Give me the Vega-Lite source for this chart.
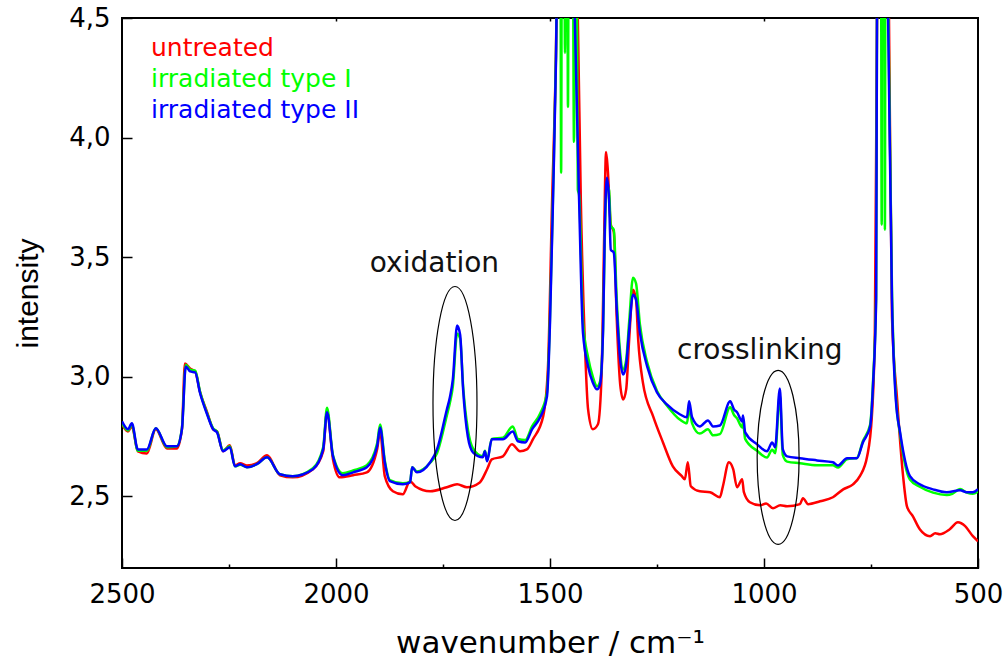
{
  "$schema": "https://vega.github.io/schema/vega-lite/v6.json",
  "width": 856,
  "height": 550,
  "autosize": {"type": "none"},
  "padding": {"left": 122, "top": 18, "right": 27, "bottom": 93},
  "background": "white",
  "config": {
    "view": {"stroke": "black", "strokeWidth": 2},
    "font": "DejaVu Sans",
    "axis": {"domain": false, "grid": false, "tickColor": "black", "tickWidth": 1.5, "labelColor": "black", "titleColor": "black", "labelFont": "DejaVu Sans", "titleFont": "DejaVu Sans", "titleFontWeight": "normal"}
  },
  "datasets": {
    "spectra": [
      {"sample": "untreated", "wavenumber": 2500, "intensity": 2.801},
      {"sample": "untreated", "wavenumber": 2486, "intensity": 2.771},
      {"sample": "untreated", "wavenumber": 2477, "intensity": 2.792},
      {"sample": "untreated", "wavenumber": 2463, "intensity": 2.688},
      {"sample": "untreated", "wavenumber": 2442, "intensity": 2.679},
      {"sample": "untreated", "wavenumber": 2421, "intensity": 2.780},
      {"sample": "untreated", "wavenumber": 2395, "intensity": 2.700},
      {"sample": "untreated", "wavenumber": 2372, "intensity": 2.700},
      {"sample": "untreated", "wavenumber": 2360, "intensity": 2.780},
      {"sample": "untreated", "wavenumber": 2353, "intensity": 3.055},
      {"sample": "untreated", "wavenumber": 2341, "intensity": 3.034},
      {"sample": "untreated", "wavenumber": 2329, "intensity": 3.022},
      {"sample": "untreated", "wavenumber": 2318, "intensity": 2.938},
      {"sample": "untreated", "wavenumber": 2301, "intensity": 2.851},
      {"sample": "untreated", "wavenumber": 2287, "intensity": 2.780},
      {"sample": "untreated", "wavenumber": 2278, "intensity": 2.771},
      {"sample": "untreated", "wavenumber": 2264, "intensity": 2.688},
      {"sample": "untreated", "wavenumber": 2248, "intensity": 2.713},
      {"sample": "untreated", "wavenumber": 2236, "intensity": 2.629},
      {"sample": "untreated", "wavenumber": 2224, "intensity": 2.638},
      {"sample": "untreated", "wavenumber": 2208, "intensity": 2.629},
      {"sample": "untreated", "wavenumber": 2185, "intensity": 2.638},
      {"sample": "untreated", "wavenumber": 2161, "intensity": 2.671},
      {"sample": "untreated", "wavenumber": 2131, "intensity": 2.588},
      {"sample": "untreated", "wavenumber": 2101, "intensity": 2.579},
      {"sample": "untreated", "wavenumber": 2054, "intensity": 2.613},
      {"sample": "untreated", "wavenumber": 2030, "intensity": 2.688},
      {"sample": "untreated", "wavenumber": 2021, "intensity": 2.855},
      {"sample": "untreated", "wavenumber": 2007, "intensity": 2.654},
      {"sample": "untreated", "wavenumber": 1991, "intensity": 2.579},
      {"sample": "untreated", "wavenumber": 1960, "intensity": 2.588},
      {"sample": "untreated", "wavenumber": 1928, "intensity": 2.600},
      {"sample": "untreated", "wavenumber": 1904, "intensity": 2.696},
      {"sample": "untreated", "wavenumber": 1897, "intensity": 2.771},
      {"sample": "untreated", "wavenumber": 1886, "intensity": 2.584},
      {"sample": "untreated", "wavenumber": 1867, "intensity": 2.521},
      {"sample": "untreated", "wavenumber": 1844, "intensity": 2.508},
      {"sample": "untreated", "wavenumber": 1827, "intensity": 2.563},
      {"sample": "untreated", "wavenumber": 1815, "intensity": 2.542},
      {"sample": "untreated", "wavenumber": 1780, "intensity": 2.521},
      {"sample": "untreated", "wavenumber": 1741, "intensity": 2.538},
      {"sample": "untreated", "wavenumber": 1717, "intensity": 2.550},
      {"sample": "untreated", "wavenumber": 1694, "intensity": 2.538},
      {"sample": "untreated", "wavenumber": 1664, "intensity": 2.558},
      {"sample": "untreated", "wavenumber": 1647, "intensity": 2.613},
      {"sample": "untreated", "wavenumber": 1636, "intensity": 2.654},
      {"sample": "untreated", "wavenumber": 1610, "intensity": 2.667},
      {"sample": "untreated", "wavenumber": 1589, "intensity": 2.717},
      {"sample": "untreated", "wavenumber": 1570, "intensity": 2.688},
      {"sample": "untreated", "wavenumber": 1554, "intensity": 2.696},
      {"sample": "untreated", "wavenumber": 1540, "intensity": 2.738},
      {"sample": "untreated", "wavenumber": 1516, "intensity": 2.834},
      {"sample": "untreated", "wavenumber": 1505, "intensity": 3.030},
      {"sample": "untreated", "wavenumber": 1495, "intensity": 3.740},
      {"sample": "untreated", "wavenumber": 1486, "intensity": 4.366},
      {"sample": "untreated", "wavenumber": 1481, "intensity": 4.99},
      {"sample": "untreated", "wavenumber": 1460, "intensity": 5.8},
      {"sample": "untreated", "wavenumber": 1444, "intensity": 4.99},
      {"sample": "untreated", "wavenumber": 1435, "intensity": 4.5},
      {"sample": "untreated", "wavenumber": 1428, "intensity": 3.740},
      {"sample": "untreated", "wavenumber": 1418, "intensity": 3.114},
      {"sample": "untreated", "wavenumber": 1411, "intensity": 2.863},
      {"sample": "untreated", "wavenumber": 1400, "intensity": 2.780},
      {"sample": "untreated", "wavenumber": 1388, "intensity": 2.801},
      {"sample": "untreated", "wavenumber": 1379, "intensity": 3.030},
      {"sample": "untreated", "wavenumber": 1374, "intensity": 3.531},
      {"sample": "untreated", "wavenumber": 1369, "intensity": 3.940},
      {"sample": "untreated", "wavenumber": 1365, "intensity": 3.866},
      {"sample": "untreated", "wavenumber": 1358, "intensity": 3.636},
      {"sample": "untreated", "wavenumber": 1351, "intensity": 3.606},
      {"sample": "untreated", "wavenumber": 1344, "intensity": 3.239},
      {"sample": "untreated", "wavenumber": 1336, "intensity": 2.968},
      {"sample": "untreated", "wavenumber": 1329, "intensity": 2.905},
      {"sample": "untreated", "wavenumber": 1322, "intensity": 2.947},
      {"sample": "untreated", "wavenumber": 1315, "intensity": 3.156},
      {"sample": "untreated", "wavenumber": 1306, "intensity": 3.364},
      {"sample": "untreated", "wavenumber": 1299, "intensity": 3.323},
      {"sample": "untreated", "wavenumber": 1294, "intensity": 3.156},
      {"sample": "untreated", "wavenumber": 1283, "intensity": 2.976},
      {"sample": "untreated", "wavenumber": 1259, "intensity": 2.834},
      {"sample": "untreated", "wavenumber": 1236, "intensity": 2.725},
      {"sample": "untreated", "wavenumber": 1213, "intensity": 2.625},
      {"sample": "untreated", "wavenumber": 1192, "intensity": 2.584},
      {"sample": "untreated", "wavenumber": 1185, "intensity": 2.571},
      {"sample": "untreated", "wavenumber": 1178, "intensity": 2.642},
      {"sample": "untreated", "wavenumber": 1171, "intensity": 2.542},
      {"sample": "untreated", "wavenumber": 1150, "intensity": 2.521},
      {"sample": "untreated", "wavenumber": 1126, "intensity": 2.517},
      {"sample": "untreated", "wavenumber": 1103, "intensity": 2.496},
      {"sample": "untreated", "wavenumber": 1096, "intensity": 2.542},
      {"sample": "untreated", "wavenumber": 1082, "intensity": 2.642},
      {"sample": "untreated", "wavenumber": 1072, "intensity": 2.613},
      {"sample": "untreated", "wavenumber": 1063, "intensity": 2.538},
      {"sample": "untreated", "wavenumber": 1051, "intensity": 2.571},
      {"sample": "untreated", "wavenumber": 1047, "intensity": 2.517},
      {"sample": "untreated", "wavenumber": 1033, "intensity": 2.475},
      {"sample": "untreated", "wavenumber": 1009, "intensity": 2.462},
      {"sample": "untreated", "wavenumber": 995, "intensity": 2.470},
      {"sample": "untreated", "wavenumber": 979, "intensity": 2.450},
      {"sample": "untreated", "wavenumber": 962, "intensity": 2.462},
      {"sample": "untreated", "wavenumber": 946, "intensity": 2.458},
      {"sample": "untreated", "wavenumber": 916, "intensity": 2.467},
      {"sample": "untreated", "wavenumber": 909, "intensity": 2.492},
      {"sample": "untreated", "wavenumber": 897, "intensity": 2.467},
      {"sample": "untreated", "wavenumber": 869, "intensity": 2.479},
      {"sample": "untreated", "wavenumber": 839, "intensity": 2.496},
      {"sample": "untreated", "wavenumber": 815, "intensity": 2.529},
      {"sample": "untreated", "wavenumber": 792, "intensity": 2.550},
      {"sample": "untreated", "wavenumber": 776, "intensity": 2.584},
      {"sample": "untreated", "wavenumber": 759, "intensity": 2.667},
      {"sample": "untreated", "wavenumber": 748, "intensity": 2.834},
      {"sample": "untreated", "wavenumber": 741, "intensity": 3.185},
      {"sample": "untreated", "wavenumber": 736, "intensity": 4.5},
      {"sample": "untreated", "wavenumber": 729, "intensity": 5.4},
      {"sample": "untreated", "wavenumber": 715, "intensity": 5.4},
      {"sample": "untreated", "wavenumber": 708, "intensity": 4.5},
      {"sample": "untreated", "wavenumber": 701, "intensity": 3.252},
      {"sample": "untreated", "wavenumber": 689, "intensity": 2.905},
      {"sample": "untreated", "wavenumber": 675, "intensity": 2.584},
      {"sample": "untreated", "wavenumber": 666, "intensity": 2.458},
      {"sample": "untreated", "wavenumber": 652, "intensity": 2.416},
      {"sample": "untreated", "wavenumber": 636, "intensity": 2.362},
      {"sample": "untreated", "wavenumber": 612, "intensity": 2.333},
      {"sample": "untreated", "wavenumber": 600, "intensity": 2.345},
      {"sample": "untreated", "wavenumber": 589, "intensity": 2.341},
      {"sample": "untreated", "wavenumber": 566, "intensity": 2.362},
      {"sample": "untreated", "wavenumber": 547, "intensity": 2.391},
      {"sample": "untreated", "wavenumber": 530, "intensity": 2.375},
      {"sample": "untreated", "wavenumber": 512, "intensity": 2.333},
      {"sample": "untreated", "wavenumber": 500, "intensity": 2.312},

      {"sample": "irradiated type I", "wavenumber": 2500, "intensity": 2.805},
      {"sample": "irradiated type I", "wavenumber": 2486, "intensity": 2.775},
      {"sample": "irradiated type I", "wavenumber": 2477, "intensity": 2.800},
      {"sample": "irradiated type I", "wavenumber": 2463, "intensity": 2.690},
      {"sample": "irradiated type I", "wavenumber": 2442, "intensity": 2.690},
      {"sample": "irradiated type I", "wavenumber": 2421, "intensity": 2.784},
      {"sample": "irradiated type I", "wavenumber": 2395, "intensity": 2.705},
      {"sample": "irradiated type I", "wavenumber": 2372, "intensity": 2.709},
      {"sample": "irradiated type I", "wavenumber": 2360, "intensity": 2.784},
      {"sample": "irradiated type I", "wavenumber": 2351, "intensity": 3.050},
      {"sample": "irradiated type I", "wavenumber": 2341, "intensity": 3.030},
      {"sample": "irradiated type I", "wavenumber": 2329, "intensity": 3.025},
      {"sample": "irradiated type I", "wavenumber": 2318, "intensity": 2.940},
      {"sample": "irradiated type I", "wavenumber": 2301, "intensity": 2.846},
      {"sample": "irradiated type I", "wavenumber": 2287, "intensity": 2.784},
      {"sample": "irradiated type I", "wavenumber": 2278, "intensity": 2.771},
      {"sample": "irradiated type I", "wavenumber": 2264, "intensity": 2.692},
      {"sample": "irradiated type I", "wavenumber": 2248, "intensity": 2.709},
      {"sample": "irradiated type I", "wavenumber": 2236, "intensity": 2.625},
      {"sample": "irradiated type I", "wavenumber": 2224, "intensity": 2.632},
      {"sample": "irradiated type I", "wavenumber": 2208, "intensity": 2.621},
      {"sample": "irradiated type I", "wavenumber": 2185, "intensity": 2.634},
      {"sample": "irradiated type I", "wavenumber": 2161, "intensity": 2.663},
      {"sample": "irradiated type I", "wavenumber": 2131, "intensity": 2.592},
      {"sample": "irradiated type I", "wavenumber": 2101, "intensity": 2.584},
      {"sample": "irradiated type I", "wavenumber": 2054, "intensity": 2.617},
      {"sample": "irradiated type I", "wavenumber": 2030, "intensity": 2.705},
      {"sample": "irradiated type I", "wavenumber": 2021, "intensity": 2.870},
      {"sample": "irradiated type I", "wavenumber": 2007, "intensity": 2.671},
      {"sample": "irradiated type I", "wavenumber": 1984, "intensity": 2.596},
      {"sample": "irradiated type I", "wavenumber": 1960, "intensity": 2.608},
      {"sample": "irradiated type I", "wavenumber": 1928, "intensity": 2.630},
      {"sample": "irradiated type I", "wavenumber": 1904, "intensity": 2.720},
      {"sample": "irradiated type I", "wavenumber": 1897, "intensity": 2.800},
      {"sample": "irradiated type I", "wavenumber": 1886, "intensity": 2.650},
      {"sample": "irradiated type I", "wavenumber": 1874, "intensity": 2.568},
      {"sample": "irradiated type I", "wavenumber": 1844, "intensity": 2.554},
      {"sample": "irradiated type I", "wavenumber": 1827, "intensity": 2.560},
      {"sample": "irradiated type I", "wavenumber": 1822, "intensity": 2.621},
      {"sample": "irradiated type I", "wavenumber": 1811, "intensity": 2.604},
      {"sample": "irradiated type I", "wavenumber": 1780, "intensity": 2.640},
      {"sample": "irradiated type I", "wavenumber": 1764, "intensity": 2.680},
      {"sample": "irradiated type I", "wavenumber": 1741, "intensity": 2.838},
      {"sample": "irradiated type I", "wavenumber": 1734, "intensity": 2.890},
      {"sample": "irradiated type I", "wavenumber": 1727, "intensity": 2.960},
      {"sample": "irradiated type I", "wavenumber": 1717, "intensity": 3.180},
      {"sample": "irradiated type I", "wavenumber": 1710, "intensity": 3.160},
      {"sample": "irradiated type I", "wavenumber": 1703, "intensity": 2.960},
      {"sample": "irradiated type I", "wavenumber": 1692, "intensity": 2.780},
      {"sample": "irradiated type I", "wavenumber": 1680, "intensity": 2.700},
      {"sample": "irradiated type I", "wavenumber": 1657, "intensity": 2.667},
      {"sample": "irradiated type I", "wavenumber": 1652, "intensity": 2.690},
      {"sample": "irradiated type I", "wavenumber": 1647, "intensity": 2.650},
      {"sample": "irradiated type I", "wavenumber": 1636, "intensity": 2.740},
      {"sample": "irradiated type I", "wavenumber": 1610, "intensity": 2.745},
      {"sample": "irradiated type I", "wavenumber": 1587, "intensity": 2.792},
      {"sample": "irradiated type I", "wavenumber": 1575, "intensity": 2.740},
      {"sample": "irradiated type I", "wavenumber": 1558, "intensity": 2.735},
      {"sample": "irradiated type I", "wavenumber": 1542, "intensity": 2.792},
      {"sample": "irradiated type I", "wavenumber": 1523, "intensity": 2.846},
      {"sample": "irradiated type I", "wavenumber": 1507, "intensity": 2.935},
      {"sample": "irradiated type I", "wavenumber": 1500, "intensity": 3.250},
      {"sample": "irradiated type I", "wavenumber": 1493, "intensity": 3.760},
      {"sample": "irradiated type I", "wavenumber": 1486, "intensity": 4.340},
      {"sample": "irradiated type I", "wavenumber": 1481, "intensity": 5.0},
      {"sample": "irradiated type I", "wavenumber": 1476, "intensity": 5.2},
      {"sample": "irradiated type I", "wavenumber": 1474, "intensity": 3.853},
      {"sample": "irradiated type I", "wavenumber": 1472, "intensity": 5.2},
      {"sample": "irradiated type I", "wavenumber": 1467, "intensity": 5.2},
      {"sample": "irradiated type I", "wavenumber": 1465, "intensity": 4.354},
      {"sample": "irradiated type I", "wavenumber": 1463, "intensity": 5.2},
      {"sample": "irradiated type I", "wavenumber": 1460, "intensity": 5.2},
      {"sample": "irradiated type I", "wavenumber": 1458, "intensity": 4.128},
      {"sample": "irradiated type I", "wavenumber": 1456, "intensity": 5.2},
      {"sample": "irradiated type I", "wavenumber": 1447, "intensity": 5.0},
      {"sample": "irradiated type I", "wavenumber": 1444, "intensity": 3.982},
      {"sample": "irradiated type I", "wavenumber": 1441, "intensity": 4.7},
      {"sample": "irradiated type I", "wavenumber": 1437, "intensity": 4.5},
      {"sample": "irradiated type I", "wavenumber": 1435, "intensity": 3.782},
      {"sample": "irradiated type I", "wavenumber": 1432, "intensity": 3.760},
      {"sample": "irradiated type I", "wavenumber": 1423, "intensity": 3.230},
      {"sample": "irradiated type I", "wavenumber": 1411, "intensity": 3.080},
      {"sample": "irradiated type I", "wavenumber": 1400, "intensity": 3.000},
      {"sample": "irradiated type I", "wavenumber": 1390, "intensity": 2.960},
      {"sample": "irradiated type I", "wavenumber": 1383, "intensity": 2.980},
      {"sample": "irradiated type I", "wavenumber": 1376, "intensity": 3.200},
      {"sample": "irradiated type I", "wavenumber": 1372, "intensity": 3.580},
      {"sample": "irradiated type I", "wavenumber": 1367, "intensity": 3.800},
      {"sample": "irradiated type I", "wavenumber": 1362, "intensity": 3.780},
      {"sample": "irradiated type I", "wavenumber": 1358, "intensity": 3.630},
      {"sample": "irradiated type I", "wavenumber": 1351, "intensity": 3.615},
      {"sample": "irradiated type I", "wavenumber": 1344, "intensity": 3.320},
      {"sample": "irradiated type I", "wavenumber": 1336, "intensity": 3.100},
      {"sample": "irradiated type I", "wavenumber": 1329, "intensity": 3.030},
      {"sample": "irradiated type I", "wavenumber": 1322, "intensity": 3.070},
      {"sample": "irradiated type I", "wavenumber": 1315, "intensity": 3.230},
      {"sample": "irradiated type I", "wavenumber": 1306, "intensity": 3.414},
      {"sample": "irradiated type I", "wavenumber": 1299, "intensity": 3.390},
      {"sample": "irradiated type I", "wavenumber": 1290, "intensity": 3.220},
      {"sample": "irradiated type I", "wavenumber": 1273, "intensity": 3.060},
      {"sample": "irradiated type I", "wavenumber": 1250, "intensity": 2.940},
      {"sample": "irradiated type I", "wavenumber": 1227, "intensity": 2.880},
      {"sample": "irradiated type I", "wavenumber": 1196, "intensity": 2.820},
      {"sample": "irradiated type I", "wavenumber": 1180, "intensity": 2.805},
      {"sample": "irradiated type I", "wavenumber": 1175, "intensity": 2.870},
      {"sample": "irradiated type I", "wavenumber": 1168, "intensity": 2.805},
      {"sample": "irradiated type I", "wavenumber": 1150, "intensity": 2.762},
      {"sample": "irradiated type I", "wavenumber": 1131, "intensity": 2.780},
      {"sample": "irradiated type I", "wavenumber": 1119, "intensity": 2.755},
      {"sample": "irradiated type I", "wavenumber": 1103, "intensity": 2.760},
      {"sample": "irradiated type I", "wavenumber": 1079, "intensity": 2.872},
      {"sample": "irradiated type I", "wavenumber": 1070, "intensity": 2.840},
      {"sample": "irradiated type I", "wavenumber": 1063, "intensity": 2.826},
      {"sample": "irradiated type I", "wavenumber": 1051, "intensity": 2.788},
      {"sample": "irradiated type I", "wavenumber": 1049, "intensity": 2.810},
      {"sample": "irradiated type I", "wavenumber": 1044, "intensity": 2.740},
      {"sample": "irradiated type I", "wavenumber": 1016, "intensity": 2.690},
      {"sample": "irradiated type I", "wavenumber": 993, "intensity": 2.662},
      {"sample": "irradiated type I", "wavenumber": 981, "intensity": 2.695},
      {"sample": "irradiated type I", "wavenumber": 974, "intensity": 2.680},
      {"sample": "irradiated type I", "wavenumber": 963, "intensity": 2.925},
      {"sample": "irradiated type I", "wavenumber": 956, "intensity": 2.672},
      {"sample": "irradiated type I", "wavenumber": 946, "intensity": 2.645},
      {"sample": "irradiated type I", "wavenumber": 916, "intensity": 2.638},
      {"sample": "irradiated type I", "wavenumber": 876, "intensity": 2.630},
      {"sample": "irradiated type I", "wavenumber": 839, "intensity": 2.630},
      {"sample": "irradiated type I", "wavenumber": 827, "intensity": 2.620},
      {"sample": "irradiated type I", "wavenumber": 806, "intensity": 2.655},
      {"sample": "irradiated type I", "wavenumber": 783, "intensity": 2.660},
      {"sample": "irradiated type I", "wavenumber": 769, "intensity": 2.730},
      {"sample": "irradiated type I", "wavenumber": 752, "intensity": 2.800},
      {"sample": "irradiated type I", "wavenumber": 745, "intensity": 2.990},
      {"sample": "irradiated type I", "wavenumber": 738, "intensity": 3.340},
      {"sample": "irradiated type I", "wavenumber": 736, "intensity": 4.5},
      {"sample": "irradiated type I", "wavenumber": 730, "intensity": 5.3},
      {"sample": "irradiated type I", "wavenumber": 727, "intensity": 5.3},
      {"sample": "irradiated type I", "wavenumber": 725, "intensity": 3.636},
      {"sample": "irradiated type I", "wavenumber": 723, "intensity": 5.3},
      {"sample": "irradiated type I", "wavenumber": 719, "intensity": 5.3},
      {"sample": "irradiated type I", "wavenumber": 717.5, "intensity": 3.615},
      {"sample": "irradiated type I", "wavenumber": 716, "intensity": 5.3},
      {"sample": "irradiated type I", "wavenumber": 710, "intensity": 4.6},
      {"sample": "irradiated type I", "wavenumber": 701, "intensity": 3.360},
      {"sample": "irradiated type I", "wavenumber": 692, "intensity": 2.920},
      {"sample": "irradiated type I", "wavenumber": 682, "intensity": 2.760},
      {"sample": "irradiated type I", "wavenumber": 659, "intensity": 2.570},
      {"sample": "irradiated type I", "wavenumber": 636, "intensity": 2.540},
      {"sample": "irradiated type I", "wavenumber": 605, "intensity": 2.515},
      {"sample": "irradiated type I", "wavenumber": 573, "intensity": 2.505},
      {"sample": "irradiated type I", "wavenumber": 560, "intensity": 2.510},
      {"sample": "irradiated type I", "wavenumber": 542, "intensity": 2.530},
      {"sample": "irradiated type I", "wavenumber": 526, "intensity": 2.515},
      {"sample": "irradiated type I", "wavenumber": 512, "intensity": 2.510},
      {"sample": "irradiated type I", "wavenumber": 500, "intensity": 2.520},

      {"sample": "irradiated type II", "wavenumber": 2500, "intensity": 2.813},
      {"sample": "irradiated type II", "wavenumber": 2486, "intensity": 2.780},
      {"sample": "irradiated type II", "wavenumber": 2477, "intensity": 2.805},
      {"sample": "irradiated type II", "wavenumber": 2463, "intensity": 2.696},
      {"sample": "irradiated type II", "wavenumber": 2442, "intensity": 2.696},
      {"sample": "irradiated type II", "wavenumber": 2421, "intensity": 2.784},
      {"sample": "irradiated type II", "wavenumber": 2395, "intensity": 2.709},
      {"sample": "irradiated type II", "wavenumber": 2372, "intensity": 2.709},
      {"sample": "irradiated type II", "wavenumber": 2360, "intensity": 2.780},
      {"sample": "irradiated type II", "wavenumber": 2351, "intensity": 3.043},
      {"sample": "irradiated type II", "wavenumber": 2341, "intensity": 3.022},
      {"sample": "irradiated type II", "wavenumber": 2329, "intensity": 3.018},
      {"sample": "irradiated type II", "wavenumber": 2318, "intensity": 2.934},
      {"sample": "irradiated type II", "wavenumber": 2301, "intensity": 2.842},
      {"sample": "irradiated type II", "wavenumber": 2287, "intensity": 2.780},
      {"sample": "irradiated type II", "wavenumber": 2278, "intensity": 2.767},
      {"sample": "irradiated type II", "wavenumber": 2264, "intensity": 2.688},
      {"sample": "irradiated type II", "wavenumber": 2248, "intensity": 2.705},
      {"sample": "irradiated type II", "wavenumber": 2236, "intensity": 2.625},
      {"sample": "irradiated type II", "wavenumber": 2224, "intensity": 2.634},
      {"sample": "irradiated type II", "wavenumber": 2208, "intensity": 2.621},
      {"sample": "irradiated type II", "wavenumber": 2185, "intensity": 2.634},
      {"sample": "irradiated type II", "wavenumber": 2161, "intensity": 2.663},
      {"sample": "irradiated type II", "wavenumber": 2131, "intensity": 2.592},
      {"sample": "irradiated type II", "wavenumber": 2101, "intensity": 2.584},
      {"sample": "irradiated type II", "wavenumber": 2054, "intensity": 2.613},
      {"sample": "irradiated type II", "wavenumber": 2030, "intensity": 2.696},
      {"sample": "irradiated type II", "wavenumber": 2021, "intensity": 2.851},
      {"sample": "irradiated type II", "wavenumber": 2007, "intensity": 2.667},
      {"sample": "irradiated type II", "wavenumber": 1984, "intensity": 2.588},
      {"sample": "irradiated type II", "wavenumber": 1960, "intensity": 2.600},
      {"sample": "irradiated type II", "wavenumber": 1928, "intensity": 2.621},
      {"sample": "irradiated type II", "wavenumber": 1904, "intensity": 2.709},
      {"sample": "irradiated type II", "wavenumber": 1897, "intensity": 2.788},
      {"sample": "irradiated type II", "wavenumber": 1886, "intensity": 2.642},
      {"sample": "irradiated type II", "wavenumber": 1874, "intensity": 2.563},
      {"sample": "irradiated type II", "wavenumber": 1844, "intensity": 2.550},
      {"sample": "irradiated type II", "wavenumber": 1827, "intensity": 2.558},
      {"sample": "irradiated type II", "wavenumber": 1822, "intensity": 2.621},
      {"sample": "irradiated type II", "wavenumber": 1811, "intensity": 2.600},
      {"sample": "irradiated type II", "wavenumber": 1780, "intensity": 2.642},
      {"sample": "irradiated type II", "wavenumber": 1764, "intensity": 2.696},
      {"sample": "irradiated type II", "wavenumber": 1741, "intensity": 2.863},
      {"sample": "irradiated type II", "wavenumber": 1734, "intensity": 2.913},
      {"sample": "irradiated type II", "wavenumber": 1727, "intensity": 2.989},
      {"sample": "irradiated type II", "wavenumber": 1717, "intensity": 3.214},
      {"sample": "irradiated type II", "wavenumber": 1710, "intensity": 3.176},
      {"sample": "irradiated type II", "wavenumber": 1703, "intensity": 2.947},
      {"sample": "irradiated type II", "wavenumber": 1692, "intensity": 2.750},
      {"sample": "irradiated type II", "wavenumber": 1680, "intensity": 2.684},
      {"sample": "irradiated type II", "wavenumber": 1657, "intensity": 2.663},
      {"sample": "irradiated type II", "wavenumber": 1652, "intensity": 2.688},
      {"sample": "irradiated type II", "wavenumber": 1647, "intensity": 2.646},
      {"sample": "irradiated type II", "wavenumber": 1636, "intensity": 2.738},
      {"sample": "irradiated type II", "wavenumber": 1610, "intensity": 2.738},
      {"sample": "irradiated type II", "wavenumber": 1587, "intensity": 2.771},
      {"sample": "irradiated type II", "wavenumber": 1575, "intensity": 2.730},
      {"sample": "irradiated type II", "wavenumber": 1558, "intensity": 2.725},
      {"sample": "irradiated type II", "wavenumber": 1542, "intensity": 2.780},
      {"sample": "irradiated type II", "wavenumber": 1523, "intensity": 2.830},
      {"sample": "irradiated type II", "wavenumber": 1507, "intensity": 2.918},
      {"sample": "irradiated type II", "wavenumber": 1500, "intensity": 3.227},
      {"sample": "irradiated type II", "wavenumber": 1493, "intensity": 3.740},
      {"sample": "irradiated type II", "wavenumber": 1486, "intensity": 4.325},
      {"sample": "irradiated type II", "wavenumber": 1481, "intensity": 5.0},
      {"sample": "irradiated type II", "wavenumber": 1463, "intensity": 5.5},
      {"sample": "irradiated type II", "wavenumber": 1449, "intensity": 5.0},
      {"sample": "irradiated type II", "wavenumber": 1442, "intensity": 4.5},
      {"sample": "irradiated type II", "wavenumber": 1432, "intensity": 3.740},
      {"sample": "irradiated type II", "wavenumber": 1423, "intensity": 3.185},
      {"sample": "irradiated type II", "wavenumber": 1411, "intensity": 3.043},
      {"sample": "irradiated type II", "wavenumber": 1400, "intensity": 2.976},
      {"sample": "irradiated type II", "wavenumber": 1390, "intensity": 2.947},
      {"sample": "irradiated type II", "wavenumber": 1383, "intensity": 2.968},
      {"sample": "irradiated type II", "wavenumber": 1376, "intensity": 3.197},
      {"sample": "irradiated type II", "wavenumber": 1372, "intensity": 3.615},
      {"sample": "irradiated type II", "wavenumber": 1367, "intensity": 3.832},
      {"sample": "irradiated type II", "wavenumber": 1362, "intensity": 3.740},
      {"sample": "irradiated type II", "wavenumber": 1358, "intensity": 3.531},
      {"sample": "irradiated type II", "wavenumber": 1351, "intensity": 3.519},
      {"sample": "irradiated type II", "wavenumber": 1344, "intensity": 3.281},
      {"sample": "irradiated type II", "wavenumber": 1336, "intensity": 3.072},
      {"sample": "irradiated type II", "wavenumber": 1329, "intensity": 3.009},
      {"sample": "irradiated type II", "wavenumber": 1322, "intensity": 3.051},
      {"sample": "irradiated type II", "wavenumber": 1315, "intensity": 3.197},
      {"sample": "irradiated type II", "wavenumber": 1306, "intensity": 3.343},
      {"sample": "irradiated type II", "wavenumber": 1299, "intensity": 3.323},
      {"sample": "irradiated type II", "wavenumber": 1290, "intensity": 3.185},
      {"sample": "irradiated type II", "wavenumber": 1273, "intensity": 3.043},
      {"sample": "irradiated type II", "wavenumber": 1250, "intensity": 2.934},
      {"sample": "irradiated type II", "wavenumber": 1227, "intensity": 2.884},
      {"sample": "irradiated type II", "wavenumber": 1196, "intensity": 2.842},
      {"sample": "irradiated type II", "wavenumber": 1180, "intensity": 2.830},
      {"sample": "irradiated type II", "wavenumber": 1175, "intensity": 2.897},
      {"sample": "irradiated type II", "wavenumber": 1168, "intensity": 2.830},
      {"sample": "irradiated type II", "wavenumber": 1150, "intensity": 2.792},
      {"sample": "irradiated type II", "wavenumber": 1131, "intensity": 2.817},
      {"sample": "irradiated type II", "wavenumber": 1119, "intensity": 2.792},
      {"sample": "irradiated type II", "wavenumber": 1103, "intensity": 2.796},
      {"sample": "irradiated type II", "wavenumber": 1079, "intensity": 2.897},
      {"sample": "irradiated type II", "wavenumber": 1070, "intensity": 2.863},
      {"sample": "irradiated type II", "wavenumber": 1063, "intensity": 2.851},
      {"sample": "irradiated type II", "wavenumber": 1051, "intensity": 2.813},
      {"sample": "irradiated type II", "wavenumber": 1049, "intensity": 2.838},
      {"sample": "irradiated type II", "wavenumber": 1044, "intensity": 2.767},
      {"sample": "irradiated type II", "wavenumber": 1016, "intensity": 2.717},
      {"sample": "irradiated type II", "wavenumber": 993, "intensity": 2.688},
      {"sample": "irradiated type II", "wavenumber": 981, "intensity": 2.725},
      {"sample": "irradiated type II", "wavenumber": 974, "intensity": 2.705},
      {"sample": "irradiated type II", "wavenumber": 963, "intensity": 2.951},
      {"sample": "irradiated type II", "wavenumber": 956, "intensity": 2.696},
      {"sample": "irradiated type II", "wavenumber": 946, "intensity": 2.667},
      {"sample": "irradiated type II", "wavenumber": 916, "intensity": 2.659},
      {"sample": "irradiated type II", "wavenumber": 876, "intensity": 2.650},
      {"sample": "irradiated type II", "wavenumber": 839, "intensity": 2.642},
      {"sample": "irradiated type II", "wavenumber": 827, "intensity": 2.629},
      {"sample": "irradiated type II", "wavenumber": 806, "intensity": 2.659},
      {"sample": "irradiated type II", "wavenumber": 783, "intensity": 2.659},
      {"sample": "irradiated type II", "wavenumber": 769, "intensity": 2.725},
      {"sample": "irradiated type II", "wavenumber": 752, "intensity": 2.792},
      {"sample": "irradiated type II", "wavenumber": 745, "intensity": 2.976},
      {"sample": "irradiated type II", "wavenumber": 738, "intensity": 3.323},
      {"sample": "irradiated type II", "wavenumber": 736, "intensity": 4.5},
      {"sample": "irradiated type II", "wavenumber": 724, "intensity": 5.5},
      {"sample": "irradiated type II", "wavenumber": 710, "intensity": 4.5},
      {"sample": "irradiated type II", "wavenumber": 701, "intensity": 3.323},
      {"sample": "irradiated type II", "wavenumber": 692, "intensity": 2.905},
      {"sample": "irradiated type II", "wavenumber": 682, "intensity": 2.767},
      {"sample": "irradiated type II", "wavenumber": 659, "intensity": 2.584},
      {"sample": "irradiated type II", "wavenumber": 636, "intensity": 2.550},
      {"sample": "irradiated type II", "wavenumber": 605, "intensity": 2.529},
      {"sample": "irradiated type II", "wavenumber": 573, "intensity": 2.517},
      {"sample": "irradiated type II", "wavenumber": 542, "intensity": 2.525},
      {"sample": "irradiated type II", "wavenumber": 526, "intensity": 2.517},
      {"sample": "irradiated type II", "wavenumber": 512, "intensity": 2.517},
      {"sample": "irradiated type II", "wavenumber": 500, "intensity": 2.529}
    ]
  },
  "layer": [
    {
      "data": {"name": "spectra"},
      "transform": [{"filter": "datum.sample === 'untreated'"}],
      "mark": {"type": "line", "strokeWidth": 2.5, "clip": true, "interpolate": "monotone"},
      "encoding": {
        "x": {
          "field": "wavenumber", "type": "quantitative",
          "scale": {"domain": [500, 2500], "reverse": true, "nice": false, "zero": false},
          "axis": {
            "orient": "bottom", "values": [2500, 2000, 1500, 1000, 500], "format": "d",
            "tickSize": -10, "labelPadding": 23, "labelFontSize": 26,
            "labelFlush": false, "labelOverlap": false,
            "title": "wavenumber / cm⁻¹", "titleFontSize": 31,
            "titleY": 84, "titleBaseline": "alphabetic"
          }
        },
        "y": {
          "field": "intensity", "type": "quantitative",
          "scale": {"domain": [2.2, 4.5], "nice": false, "zero": false},
          "axis": {
            "orient": "left",
            "values": [2.5, 3.0, 3.5, 4.0, 4.5],
            "tickSize": -10, "labelPadding": 22, "labelFontSize": 26,
            "labelFlush": false, "labelOverlap": false,
            "labelExpr": "replace(format(datum.value, '.1f'), '.', ',')",
            "title": "intensity", "titleFont": "Liberation Sans", "titleFontSize": 30,
            "titleAngle": 270, "titleX": -85, "titleY": 275,
            "titleAlign": "center", "titleBaseline": "alphabetic"
          }
        },
        "color": {
          "field": "sample", "type": "nominal",
          "scale": {"domain": ["untreated", "irradiated type I", "irradiated type II"], "range": ["#ff0000", "#00ff00", "#0000ff"]},
          "legend": {
            "orient": "none", "legendX": 4, "legendY": 17, "title": null,
            "symbolSize": 0, "symbolOpacity": 0, "symbolStrokeWidth": 0,
            "labelOffset": 0, "labelFontSize": 25, "labelFont": "DejaVu Sans",
            "labelLimit": 400, "rowPadding": 5,
            "encode": {"labels": {"update": {"fill": {"scale": "color", "field": "value"}}}}
          }
        }
      }
    },
    {
      "data": {"name": "spectra"},
      "transform": [{"filter": "datum.sample === 'irradiated type I'"}],
      "mark": {"type": "line", "strokeWidth": 2.5, "clip": true, "interpolate": "monotone"},
      "encoding": {
        "x": {
          "field": "wavenumber", "type": "quantitative",
          "axis": {"orient": "bottom", "values": [2250, 1750, 1250, 750], "tickSize": -4, "labels": false, "title": null}
        },
        "y": {"field": "intensity", "type": "quantitative", "axis": null},
        "color": {"field": "sample", "type": "nominal", "legend": null}
      }
    },
    {
      "data": {"name": "spectra"},
      "transform": [{"filter": "datum.sample === 'irradiated type II'"}],
      "mark": {"type": "line", "strokeWidth": 2.5, "clip": true, "interpolate": "monotone"},
      "encoding": {
        "x": {
          "field": "wavenumber", "type": "quantitative",
          "axis": {"orient": "top", "values": [2000, 1500, 1000], "tickSize": -3, "labels": false, "title": null}
        },
        "y": {"field": "intensity", "type": "quantitative", "axis": null},
        "color": {"field": "sample", "type": "nominal", "legend": null}
      }
    },
    {
      "data": {"values": [{}]},
      "mark": {"type": "point", "shape": "M0,-1A0.188,1 0 1,1 0,1A0.188,1 0 1,1 0,-1Z", "size": 54756, "filled": false, "color": "black", "strokeWidth": 1.2, "opacity": 1},
      "encoding": {
        "x": {"datum": 1722, "type": "quantitative", "axis": null},
        "y": {"datum": 2.888, "type": "quantitative", "axis": null}
      }
    },
    {
      "data": {"values": [{}]},
      "mark": {"type": "point", "shape": "M0,-1A0.241,1 0 1,1 0,1A0.241,1 0 1,1 0,-1Z", "size": 30276, "filled": false, "color": "black", "strokeWidth": 1.2, "opacity": 1},
      "encoding": {
        "x": {"datum": 967, "type": "quantitative", "axis": null},
        "y": {"datum": 2.663, "type": "quantitative", "axis": null}
      }
    },
    {
      "data": {"values": [{}]},
      "mark": {"type": "text", "text": "oxidation", "font": "DejaVu Sans", "fontSize": 28, "align": "center", "baseline": "alphabetic", "color": "#111111"},
      "encoding": {
        "x": {"datum": 1770, "type": "quantitative", "axis": null},
        "y": {"datum": 3.439, "type": "quantitative", "axis": null}
      }
    },
    {
      "data": {"values": [{}]},
      "mark": {"type": "text", "text": "crosslinking", "font": "DejaVu Sans", "fontSize": 28, "align": "center", "baseline": "alphabetic", "color": "#111111"},
      "encoding": {
        "x": {"datum": 1010, "type": "quantitative", "axis": null},
        "y": {"datum": 3.072, "type": "quantitative", "axis": null}
      }
    }
  ],
  "resolve": {"axis": {"x": "independent", "y": "independent"}}
}
